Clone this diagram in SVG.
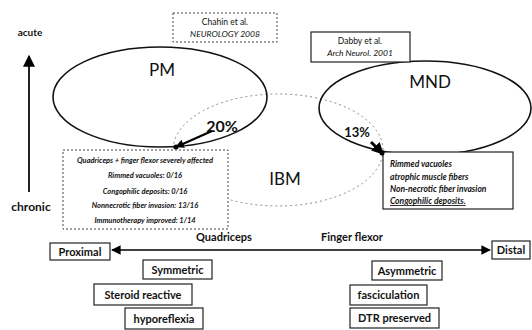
<svg xmlns="http://www.w3.org/2000/svg" width="532" height="330" viewBox="0 0 532 330">
<defs>
<marker id="ah" viewBox="0 0 10 10" refX="9" refY="5" markerWidth="4" markerHeight="4" orient="auto-start-reverse"><path d="M0,0 L10,5 L0,10 z" fill="#000"/></marker>
<marker id="ahs" viewBox="0 0 10 10" refX="9" refY="5" markerWidth="6" markerHeight="6" orient="auto-start-reverse"><path d="M0,0 L10,5 L0,10 z" fill="#000"/></marker>
<style>
text{font-family:Lato,"Open Sans","Liberation Sans",sans-serif;fill:#111}
.b{font-weight:bold}
.lbl{font-size:11px;font-weight:bold;text-anchor:middle}
.big{font-size:17px;text-anchor:middle}
.box{fill:#fff;stroke:#222;stroke-width:1.2}
.ref{fill:#fff;stroke:#444;stroke-width:1;stroke-dasharray:2 2}
.it{font-style:italic;font-size:8.5px}
.ell{fill:none;stroke:#111;stroke-width:1.6}
</style>
</defs>
<rect width="532" height="330" fill="#fff"/>
<g id="ibm">
<ellipse cx="278" cy="150" rx="105" ry="56" fill="none" stroke="#888" stroke-width="1" stroke-dasharray="2 3"/>
<text x="285" y="185" class="big">IBM</text>
</g>
<g id="pm">
<ellipse class="ell" cx="160" cy="97" rx="107" ry="50"/>
<text x="162" y="76" class="big">PM</text>
</g>
<g id="mnd">
<ellipse class="ell" cx="425" cy="108" rx="106" ry="47"/>
<text x="430" y="88" class="big">MND</text>
</g>
<g id="chahin">
<rect class="ref" x="173" y="13" width="104" height="29"/>
<text x="225" y="25" font-size="8.5" text-anchor="middle">Chahin et al.</text>
<text x="225" y="37" font-size="8.5" font-style="italic" text-anchor="middle">NEUROLOGY 2008</text>
</g>
<g id="dabby">
<rect class="box" x="311" y="32" width="99" height="30" stroke-width="0.8"/>
<text x="360" y="44" font-size="8.5" text-anchor="middle">Dabby et al.</text>
<text x="360" y="56" font-size="8.5" font-style="italic" text-anchor="middle">Arch Neurol. 2001</text>
</g>
<g id="axis-labels">
<text x="30" y="36" font-size="10" class="b" text-anchor="middle">acute</text>
<text x="31" y="211" font-size="12" class="b" text-anchor="middle">chronic</text>
</g>
<g id="pm-findings">
<rect class="ref" x="63" y="150" width="165" height="79" stroke="#222"/>
<g class="it b" text-anchor="middle">
<text x="145" y="163" font-size="7.5">Quadriceps + finger flexor severely affected</text>
<text x="145" y="178" font-size="7.5">Rimmed vacuoles: 0/16</text>
<text x="145" y="194" font-size="7.5">Congophilic deposits: 0/16</text>
<text x="145" y="208" font-size="7.5">Nonnecrotic fiber invasion: 13/16</text>
<text x="145" y="223" font-size="7.5">Immunotherapy improved: 1/14</text>
</g>
</g>
<g id="mnd-findings">
<rect class="box" x="383" y="152" width="130" height="57" stroke-width="1"/>
<g class="it b">
<text x="390" y="167" font-size="8.5">Rimmed vacuoles</text>
<text x="390" y="180" font-size="8.5">atrophic muscle fibers</text>
<text x="390" y="192" font-size="8.5">Non-necrotic fiber invasion</text>
<text x="390" y="204" font-size="8.5" text-decoration="underline">Congophilic deposits.</text>
</g>
</g>
<g id="pct">
<text x="222" y="132" font-size="16" class="b" text-anchor="middle">20%</text>
<text x="357" y="137" font-size="13" class="b" text-anchor="middle">13%</text>
</g>
<g id="connectors">
<line x1="29" y1="192" x2="29" y2="56" stroke="#222" stroke-width="2" marker-end="url(#ahs)"/>
<line x1="212" y1="131" x2="176" y2="147" stroke="#000" stroke-width="2.2" marker-end="url(#ah)"/>
<line x1="371" y1="142" x2="383" y2="154" stroke="#000" stroke-width="3" marker-end="url(#ah)"/>
<circle cx="176" cy="147" r="2.5" fill="#000"/>
<circle cx="382" cy="153" r="2.5" fill="#000"/>
<line x1="112" y1="250" x2="490" y2="250" stroke="#000" stroke-width="1.6" marker-start="url(#ahs)" marker-end="url(#ahs)"/>
</g>
<g id="axis-text">
<text x="224" y="241" class="lbl" font-size="11.5">Quadriceps</text>
<text x="352" y="241" class="lbl" font-size="11.5">Finger flexor</text>
</g>
<g id="proximal"><rect class="box" x="50" y="243" width="60" height="17"/><text x="80" y="255.5" class="lbl" font-size="10">Proximal</text></g>
<g id="distal"><rect class="box" x="492" y="241" width="38" height="18"/><text x="511" y="254" class="lbl" font-size="10">Distal</text></g>
<g id="symmetric"><rect class="box" x="143" y="260" width="69" height="19"/><text x="177.5" y="273.5" class="lbl">Symmetric</text></g>
<g id="steroid"><rect class="box" x="94" y="284" width="98" height="21"/><text x="143" y="298.5" class="lbl">Steroid reactive</text></g>
<g id="hyporeflexia"><rect class="box" x="125" y="308" width="78" height="21"/><text x="164" y="322.5" class="lbl">hyporeflexia</text></g>
<g id="asymmetric"><rect class="box" x="372" y="261" width="70" height="19"/><text x="407" y="274.5" class="lbl">Asymmetric</text></g>
<g id="fasciculation"><rect class="box" x="350" y="285" width="77" height="20"/><text x="388.5" y="299" class="lbl">fasciculation</text></g>
<g id="dtr"><rect class="box" x="350" y="308" width="89" height="20"/><text x="394.5" y="322" class="lbl">DTR preserved</text></g>
</svg>
